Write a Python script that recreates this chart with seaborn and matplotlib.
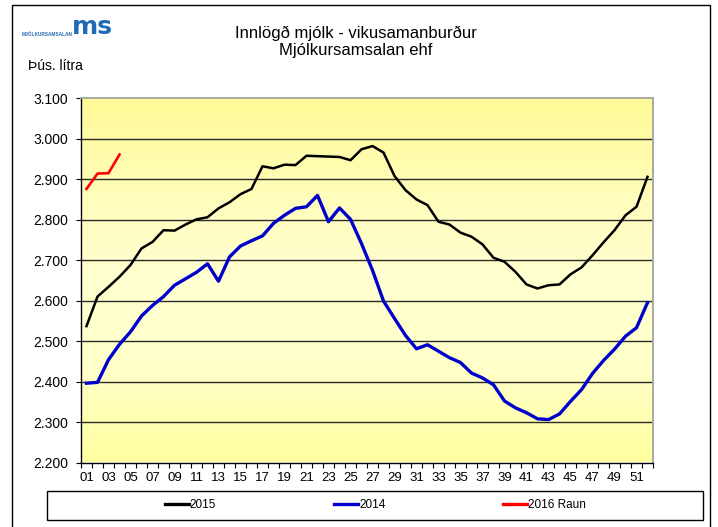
import numpy as np
import pandas as pd
import matplotlib
matplotlib.use("Agg")
import matplotlib.pyplot as plt
import seaborn as sns
from matplotlib.patches import Rectangle
from matplotlib.ticker import FuncFormatter
from matplotlib.lines import Line2D

# ---------------- data ----------------
weeks = list(range(1, 53))
v2015 = [2537, 2610, 2634, 2659, 2688, 2729, 2745, 2774, 2773, 2788,
         2801, 2806, 2828, 2843, 2863, 2876, 2932, 2927, 2936, 2935,
         2958, 2957, 2956, 2955, 2947, 2974, 2982, 2966, 2908, 2873,
         2850, 2836, 2795, 2788, 2768, 2758, 2739, 2706, 2696, 2671,
         2640, 2630, 2638, 2640, 2665, 2682, 2712, 2744, 2774, 2811,
         2832, 2906]
v2014 = [2396, 2398, 2454, 2492, 2523, 2562, 2588, 2610, 2638, 2654,
         2670, 2691, 2648, 2708, 2735, 2748, 2760, 2791, 2811, 2828,
         2832, 2860, 2795, 2829, 2801, 2741, 2675, 2599, 2556, 2514,
         2481, 2491, 2475, 2459, 2447, 2421, 2409, 2392, 2352, 2335,
         2323, 2308, 2306, 2320, 2351, 2380, 2420, 2452, 2480, 2512,
         2533, 2595]
weeks2016 = [1, 2, 3, 4]
v2016 = [2876, 2914, 2915, 2961]

xlabel_weeks = list(range(1, 53, 2))
xlabels = [f"{w:02d}" for w in xlabel_weeks]
yticks = list(range(2200, 3101, 100))

title1 = "Innlögð mjólk - vikusamanburður"
title2 = "Mjólkursamsalan ehf"
ylabel = "Þús. lítra"
series_names = ["2015", "2014", "2016 Raun"]
colors = ["#000000", "#0000CC", "#FF0000"]

df15 = pd.DataFrame({"week": weeks, "value": v2015})
df14 = pd.DataFrame({"week": weeks, "value": v2014})
df16 = pd.DataFrame({"week": weeks2016, "value": v2016})

# ---------------- figure ----------------
plt.rcParams["font.family"] = ["Liberation Sans", "DejaVu Sans"]
W, H = 718, 527
fig = plt.figure(figsize=(W / 100, H / 100), dpi=100)
fig.patch.set_facecolor("white")

def fx(px):
    return px / W

def fy(py):
    return 1 - py / H

ax_l, ax_r, ax_t, ax_b = 81, 653, 98.3, 462.5
ax = fig.add_axes([fx(ax_l), fy(ax_b), fx(ax_r - ax_l), (ax_b - ax_t) / H])

# gradient background
grad_colors = np.array([
    [255, 250, 150],
    [255, 253, 185],
    [255, 255, 208],
    [255, 255, 200],
    [255, 255, 160],
]) / 255.0
pos = np.linspace(0, 1, len(grad_colors))
t = np.linspace(0, 1, 256)
img = np.stack([np.interp(t, pos, grad_colors[:, k]) for k in range(3)], axis=1)
img = img[:, None, :]
ax.imshow(img, extent=[0, 1, 0, 1], transform=ax.transAxes, aspect="auto",
          zorder=0, origin="upper")

# gridlines
for yv in yticks[1:-1]:
    ax.axhline(yv, color="#2a2a2a", lw=1.0, zorder=1)

sns.lineplot(data=df15, x="week", y="value", ax=ax, color=colors[0], lw=1.8, zorder=3)
sns.lineplot(data=df14, x="week", y="value", ax=ax, color=colors[1], lw=2.4, zorder=3)
sns.lineplot(data=df16, x="week", y="value", ax=ax, color=colors[2], lw=1.9, zorder=4)

ax.set_xlim(0.5, 52.5)
ax.set_ylim(2200, 3100)
ax.set_xlabel("")
ax.set_ylabel("")

# x ticks: boundaries (major, no labels), labels at odd weeks (minor)
ax.set_xticks(np.arange(0.5, 53, 1.0))
ax.set_xticklabels([])
ax.set_xticks(xlabel_weeks, minor=True)
ax.set_xticklabels(xlabels, minor=True)
ax.tick_params(axis="x", which="major", direction="out", length=3.5, width=0.8, color="black")
ax.tick_params(axis="x", which="minor", length=0, pad=7, labelsize=9.5)

ax.set_yticks(yticks)
ax.yaxis.set_major_formatter(FuncFormatter(lambda v, p: f"{int(v)//1000}.{int(v)%1000:03d}"))
ax.tick_params(axis="y", direction="out", length=3.5, width=0.8, pad=6, labelsize=10)

for s in ["left", "bottom"]:
    ax.spines[s].set_color("black")
    ax.spines[s].set_linewidth(1.0)
for s in ["top", "right"]:
    ax.spines[s].set_color("#a8a8a8")
    ax.spines[s].set_linewidth(1.4)

# titles & labels
fig.text(fx(356), fy(33), title1, ha="center", va="center", fontsize=12)
fig.text(fx(356), fy(51), title2, ha="center", va="center", fontsize=12)
fig.text(fx(28), fy(66), ylabel, ha="left", va="center", fontsize=10)

# logo (approximation)
fig.text(fx(22), fy(34), "MJÓLKURSAMSALAN", ha="left", va="center", fontsize=3.4,
         fontweight="bold", color="#2468b0")
fig.text(fx(72), fy(27), "ms", ha="left", va="center", fontsize=18,
         fontweight="bold", color="#1f6ab4", family="DejaVu Sans")

# outer border
fig.patches.append(Rectangle((fx(12), -0.02), fx(710 - 12), fy(5) + 0.02,
                             transform=fig.transFigure, fill=False,
                             edgecolor="black", lw=1.0))
# legend box
fig.patches.append(Rectangle((fx(47), fy(520)), fx(703 - 47), (520 - 491) / H,
                             transform=fig.transFigure, fill=False,
                             edgecolor="black", lw=1.0))
handles = [Line2D([0], [0], color=c, lw=2.4) for c in colors]
fig.legend(handles, series_names, loc="center left",
           bbox_to_anchor=(fx(165), fy(505)), ncol=3, frameon=False,
           fontsize=8.5, handlelength=2.0, handletextpad=0.1,
           columnspacing=10.0, borderpad=0, borderaxespad=0)

fig.savefig("out.png", dpi=100)
